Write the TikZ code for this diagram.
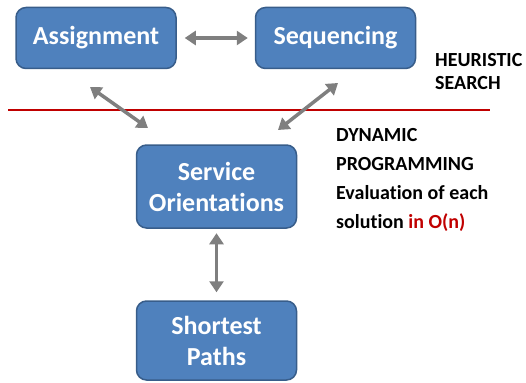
\documentclass[tikz,border=0pt]{standalone}
\usepackage{fontspec}
\setmainfont{Carlito}[Ligatures=NoCommon]
\usetikzlibrary{arrows.meta,calc}
\definecolor{boxfill}{HTML}{4F81BD}
\definecolor{boxline}{HTML}{385D8A}
\definecolor{arrgray}{HTML}{7F7F7F}
\definecolor{darkred}{HTML}{C00000}
\tikzset{
  blockbox/.style={draw=boxline, line width=1.5pt, fill=boxfill, rounded corners=10pt,
    minimum width=160pt, text=white, align=center, inner sep=0pt,
    font=\bfseries\fontsize{26}{31}\selectfont},
  biarrow/.style={draw=arrgray, line width=3.5pt,
    {Triangle[length=11pt,width=14pt]}-{Triangle[length=11pt,width=14pt]}},
  sidetext/.style={anchor=west, align=left, inner sep=0pt, font=\bfseries\fontsize{20}{29}\selectfont}
}
\begin{document}
\begin{tikzpicture}[x=1pt,y=-1pt]
\useasboundingbox (0,0) rectangle (526,382);
\node[blockbox, minimum height=61pt] (asg) at (96,38) {Assignment};
\node[blockbox, minimum height=61pt] (seq) at (335.5,38) {Sequencing};
\node[blockbox, minimum height=83pt] (so) at (216.5,186.5) {Service\\Orientations};
\node[blockbox, minimum height=79pt] (sp) at (216.5,340.5) {Shortest\\Paths};
\draw[darkred, line width=2pt] (8,110) -- (490,110);
\coordinate (a1) at (90,87);
\coordinate (s1) at (148,128);
\coordinate (q1) at (338,83);
\coordinate (s2) at (278,130);
\coordinate (h1) at ($(asg.east)+(8,0)$);
\coordinate (h2) at ($(seq.west)+(-7,0)$);
\coordinate (v1) at ($(so.south)+(0,4.5)$);
\coordinate (v2) at ($(sp.north)+(0,-8)$);
\draw[biarrow] (h1) -- (h2);
\draw[biarrow] (a1) -- (s1);
\draw[biarrow] (q1) -- (s2);
\draw[biarrow] (v1) -- (v2);
\node[sidetext, font=\bfseries\fontsize{20}{23}\selectfont] (heur) at (435,71.5) {HEURISTIC\\SEARCH};
\node[sidetext] (dyn) at (336,180) {DYNAMIC\\PROGRAMMING\\Evaluation of each\\solution \textcolor{darkred}{in O(n)}};
\end{tikzpicture}
\end{document}
